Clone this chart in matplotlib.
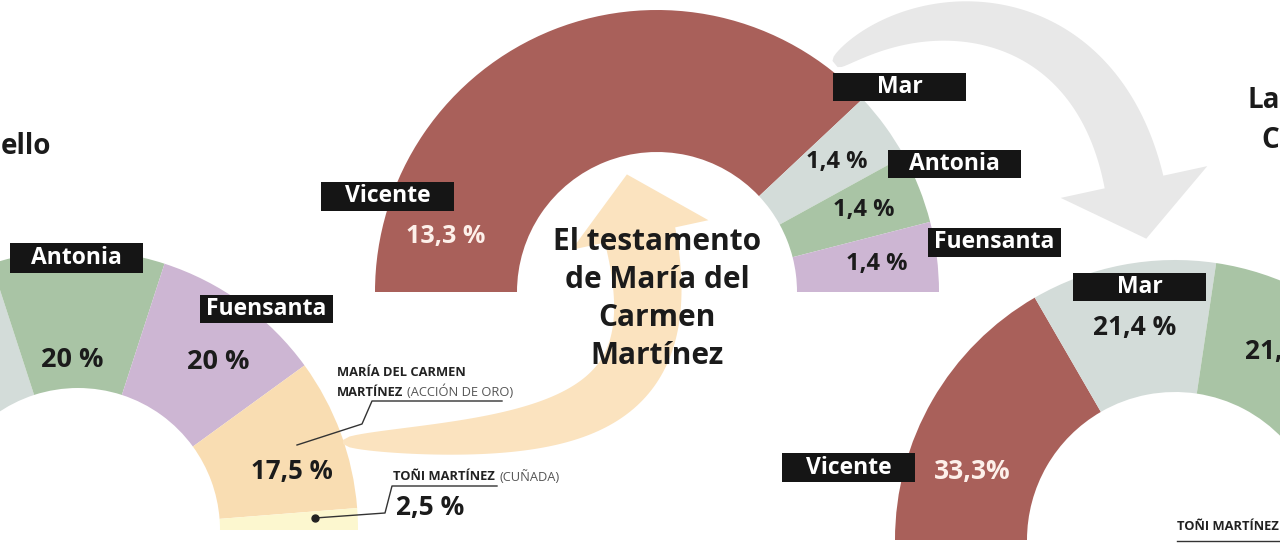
import matplotlib
matplotlib.use('Agg')
import matplotlib.pyplot as plt
import numpy as np
from matplotlib.patches import Polygon, Rectangle

plt.rcParams['font.family'] = ['Open Sans', 'DejaVu Sans']

# --- data -------------------------------------------------------------
heirs_before = ['Vicente', 'Mar', 'Antonia', 'Fuensanta', 'María del Carmen', 'Toñi']
shares_before = [20, 20, 20, 20, 17.5, 2.5]

heirs_will = ['Vicente', 'Mar', 'Antonia', 'Fuensanta']
shares_will = [13.3, 1.4, 1.4, 1.4]

heirs_after = ['Vicente', 'Mar', 'Antonia', 'Fuensanta', 'Toñi']
shares_after = [33.3, 21.4, 21.4, 21.4, 2.5]

COLORS = {
    'Vicente': '#a9605a',
    'Mar': '#d3dcd9',
    'Antonia': '#a9c4a5',
    'Fuensanta': '#cdb6d3',
    'María del Carmen': '#f9ddb2',
    'Toñi': '#fcf7cf',
}
DARK = '#1b1b1b'


def pct(v, sep=' '):
    return f'{v:g}'.replace('.', ',') + sep + '%'


def half_donut(ax, names, values, center, r_out, r_in):
    vals = list(values) + [sum(values)]
    cols = [COLORS[n] for n in names] + ['none']
    wedges, _ = ax.pie(vals, colors=cols, startangle=180, counterclock=True,
                       radius=r_out, center=center, frame=True,
                       wedgeprops=dict(width=r_out - r_in, linewidth=0))
    wedges[-1].set_visible(False)


def mid_point(values, i, center, r):
    total = sum(values)
    frac = (sum(values[:i]) + values[i] / 2) / total
    th = np.deg2rad(180 + 180 * frac)
    return center[0] + r * np.cos(th), center[1] + r * np.sin(th)


def name_tag(ax, x, y, text, w=133, h=29):
    ax.add_patch(Rectangle((x, y), w, h, facecolor='#151515', edgecolor='none', zorder=5))
    ax.text(x + w / 2, y + h / 2, text, color='white', fontsize=16.5, fontweight='bold',
            ha='center', va='center', zorder=6)


def curved_arrow(ax, ctrl, w0, w1, head_w, head_len, color, z):
    p = np.array(ctrl, float)
    t = np.linspace(0, 1, 100)[:, None]
    pts = (1 - t) ** 3 * p[0] + 3 * (1 - t) ** 2 * t * p[1] + 3 * (1 - t) * t ** 2 * p[2] + t ** 3 * p[3]
    der = 3 * (1 - t) ** 2 * (p[1] - p[0]) + 6 * (1 - t) * t * (p[2] - p[1]) + 3 * t ** 2 * (p[3] - p[2])
    der = der / np.linalg.norm(der, axis=1, keepdims=True)
    nrm = np.column_stack([-der[:, 1], der[:, 0]])
    w = (w0 + (w1 - w0) * np.sqrt(t[:, 0]))[:, None] / 2
    left = pts + nrm * w
    right = pts - nrm * w
    d_end, n_end = der[-1], nrm[-1]
    head = [p[3] + n_end * head_w / 2, p[3] + d_end * head_len, p[3] - n_end * head_w / 2]
    poly = np.vstack([left, head, right[::-1]])
    ax.add_patch(Polygon(poly, closed=True, facecolor=color, edgecolor='none', zorder=z))


fig = plt.figure(figsize=(12.8, 5.48), dpi=100)
ax = fig.add_axes([0, 0, 1, 1])

c_left, c_mid, c_right = (78, 530), (657, 292), (1175, 540)

# arrows (behind)
curved_arrow(ax, [(835, 64), (925, -10), (1095, 2), (1134, 182)], 8, 60, 150, 58, '#e8e8e8', 0.5)
curved_arrow(ax, [(343, 442), (560, 440), (680, 420), (640, 235)], 4, 72, 140, 62, '#fbe3bf', 1.5)

half_donut(ax, heirs_before, shares_before, c_left, 280, 142)
half_donut(ax, heirs_will, shares_will, c_mid, 282, 140)
half_donut(ax, heirs_after, shares_after, c_right, 280, 148)

# --- left chart labels ---
name_tag(ax, 10, 243, 'Antonia', h=30)
name_tag(ax, 200, 295, 'Fuensanta', h=28)
ax.text(72, 360, pct(shares_before[2]), fontsize=19.5, fontweight='bold', color=DARK, ha='center', va='center', zorder=4)
ax.text(218, 362, pct(shares_before[3]), fontsize=19.5, fontweight='bold', color=DARK, ha='center', va='center', zorder=4)
ax.text(292, 472, pct(shares_before[4]), fontsize=18.5, fontweight='bold', color=DARK, ha='center', va='center', zorder=4)

ax.text(337, 373, 'MARÍA DEL CARMEN', fontsize=9.3, fontweight='bold', color='#222', ha='left', va='center', zorder=4)
ax.text(337, 392, 'MARTÍNEZ', fontsize=9.3, fontweight='bold', color='#222', ha='left', va='center', zorder=4)
ax.text(407, 392, '(ACCIÓN DE ORO)', fontsize=9.3, color='#555', ha='left', va='center', zorder=4)
ax.plot([297, 362, 372, 502], [445, 424, 401, 401], color='#333', lw=1, zorder=4)

ax.text(393, 477, 'TOÑI MARTÍNEZ', fontsize=9.3, fontweight='bold', color='#222', ha='left', va='center', zorder=4)
ax.text(499, 477, '(CUÑADA)', fontsize=9.3, color='#555', ha='left', va='center', zorder=4)
ax.plot([315, 385, 392, 497], [518, 513, 486, 486], color='#333', lw=1, zorder=4)
ax.plot([315], [518], 'o', ms=5, color='#222', zorder=4)
ax.text(430, 508, pct(shares_before[5]), fontsize=19, fontweight='bold', color=DARK, ha='center', va='center', zorder=4)

ax.text(1, 147, 'ello', fontsize=20, fontweight='bold', color=DARK, ha='left', va='center')

# --- middle chart labels ---
name_tag(ax, 321, 182, 'Vicente')
ax.text(446, 237, pct(shares_will[0]), fontsize=18, fontweight='bold', color='#fdf0ea', ha='center', va='center', zorder=4)
name_tag(ax, 833, 73, 'Mar', h=28)
name_tag(ax, 888, 150, 'Antonia', h=28)
name_tag(ax, 928, 228, 'Fuensanta')
for i in range(1, len(shares_will)):
    x, y = mid_point(shares_will, i, c_mid, 222)
    ax.text(x, y, pct(shares_will[i]), fontsize=17, fontweight='bold', color=DARK,
            ha='center', va='center', zorder=4)

title_lines = ['El testamento', 'de María del', 'Carmen', 'Martínez']
for k, line in enumerate(title_lines):
    ax.text(657, 242 + 38 * k, line, fontsize=21.5, fontweight='bold', color=DARK,
            ha='center', va='center', zorder=4)

# --- right chart labels ---
name_tag(ax, 782, 453, 'Vicente')
ax.text(972, 472, pct(shares_after[0], sep=''), fontsize=19, fontweight='bold', color='#fdf0ea', ha='center', va='center', zorder=4)
name_tag(ax, 1073, 273, 'Mar', h=28)
ax.text(1135, 327, pct(shares_after[1]), fontsize=19, fontweight='bold', color=DARK, ha='center', va='center', zorder=4)
ax.text(1245, 352, pct(shares_after[2]), fontsize=19, fontweight='bold', color=DARK, ha='left', va='center', zorder=4)
ax.text(1177, 527, 'TOÑI MARTÍNEZ', fontsize=9.3, fontweight='bold', color='#222', ha='left', va='center', zorder=4)
ax.plot([1177, 1280], [541, 541], color='#333', lw=1, zorder=4)
ax.text(1248, 100, 'La', fontsize=20, fontweight='bold', color=DARK, ha='left', va='center')
ax.text(1261, 140, 'C', fontsize=20, fontweight='bold', color=DARK, ha='left', va='center')

ax.set_xlim(0, 1280)
ax.set_ylim(548, 0)
ax.set_aspect('equal')
ax.axis('off')

fig.savefig('out.png', dpi=100, facecolor='white')
plt.close(fig)
